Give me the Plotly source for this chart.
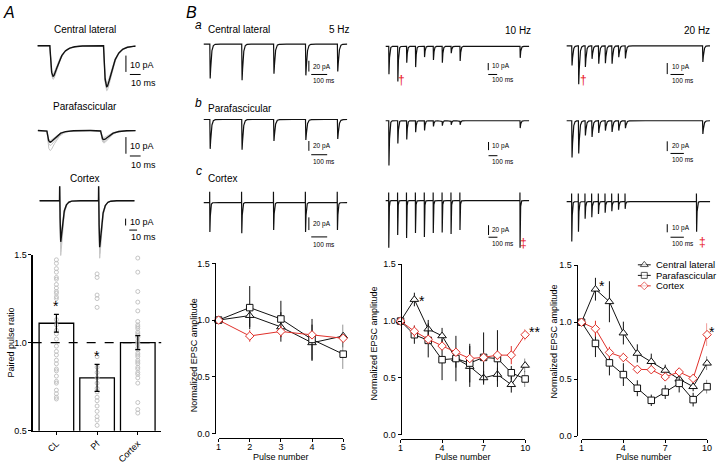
import numpy as np
import plotly.graph_objects as go

W, H = 720, 467
FONT = "Liberation Sans, Arial, Helvetica, sans-serif"
BLACK = "#111111"
GREY = "#c6c6c6"
RED = "#e0302a"
DAGGER = "#e8141c"

# ===================== DATA =====================
# Panel A - paired pulse ratio (bar chart)
ppr_groups = ["CL", "Pf", "Cortex"]
ppr_mean = [1.11, 0.80, 1.00]
ppr_sem = [0.05, 0.077, 0.04]
ppr_cells_cl = [1.47, 1.45, 1.42, 1.40, 1.37, 1.36, 1.33, 1.31, 1.29, 1.28, 1.26, 1.25,
                1.13, 1.10, 1.07, 1.05, 1.02, 0.98, 0.95, 0.93, 0.90, 0.88, 0.85, 0.84,
                0.81, 0.78, 0.77, 0.73, 0.71, 0.69, 0.68]
ppr_cells_pf = [1.39, 1.37, 1.27, 1.25, 1.20, 0.92, 0.86, 0.83, 0.80, 0.77, 0.74, 0.72,
                0.69, 0.67, 0.64, 0.61, 0.58, 0.56, 0.53]
ppr_cells_ctx = [1.48, 1.40, 1.29, 1.23, 1.18, 1.12, 1.10, 1.09, 1.08, 1.06, 1.05, 1.04,
                 1.03, 1.01, 1.00, 0.99, 0.97, 0.96, 0.94, 0.93, 0.92, 0.90, 0.89, 0.88,
                 0.86, 0.85, 0.83, 0.82, 0.80, 0.77, 0.66, 0.62, 0.60]

# Panel A - example paired-pulse EPSCs (pA) at stimulus times (ms)
pp_stim_ms = [0, 50]
pp_cl_avg = [18.6, 25.0]
pp_cl_sweeps = [[20.5, 27.5], [17.0, 23.0], [19.8, 26.0]]
pp_pf_avg = [7.0, 5.5]
pp_pf_sweeps = [[12.0, 7.5], [9.0, 4.2], [6.0, 6.8]]
pp_ctx_avg = [60.0, 68.0]
pp_ctx_sweeps = [[80.0, 84.0], [70.0, 77.0], [52.0, 60.0]]
pp_ctx_artifact = 21.0

# Panel B - example trains (stimulus times in ms, EPSC amplitudes in pA)
train_5hz_ms = [0, 200, 400, 600, 800]
train_10hz_ms = [0, 100, 200, 300, 400, 500, 600, 700, 800, 1475]
train_20hz_ms = [0, 50, 100, 150, 200, 250, 300, 350, 400, 980]
train_20hz_ctx_ms = [0, 50, 100, 150, 200, 250, 300, 350, 400, 935]
cl_5hz_pa = [64, 67, 55, 58, 51]
cl_10hz_pa = [39, 49, 23, 29, 15, 19, 23, 9.5, 20.5, 16]
cl_20hz_pa = [17.7, 34.8, 19.2, 11.8, 16.2, 15.7, 16.2, 10.3, 11.5, 14.7]
pf_5hz_pa = [60, 62, 44, 42, 40]
pf_10hz_pa = [55, 28, 23, 14, 12, 7, 6, 5, 5, 9]
pf_20hz_pa = [75, 67, 30, 33, 25, 20, 23, 20, 15, 27]
ctx_5hz_pa = [46, 48, 43, 46, 43]
ctx_10hz_pa = [96, 70, 76, 66, 74, 66, 65, 68, 60, 96]
ctx_20hz_pa = [49, 37, 21, 19, 15, 13.6, 11.7, 10, 8.8, 37]
ctx_artifact_pa = [17, 16.6, 10]

# Panel B - normalized EPSC amplitude (mean +/- SEM)
pulses_5 = [1, 2, 3, 4, 5]
pulses_10 = [1, 2, 3, 4, 5, 6, 7, 8, 9, 10]
cl_5 = [1.0, 1.04, 0.94, 0.80, 0.86]
cl_5_err = [0, 0.10, 0.13, 0.16, 0.10]
pf_5 = [1.0, 1.11, 1.01, 0.83, 0.70]
pf_5_err = [0, 0.19, 0.16, 0.18, 0.13]
ctx_5 = [1.0, 0.86, 0.90, 0.87, 0.84]
ctx_5_err = [0, 0.05, 0.05, 0.03, 0.03]

cl_10 = [1.0, 1.19, 0.93, 0.87, 0.67, 0.60, 0.50, 0.53, 0.44, 0.61]
cl_10_err = [0, 0.06, 0.08, 0.07, 0.08, 0.18, 0.06, 0.06, 0.07, 0.06]
pf_10 = [1.0, 0.88, 0.83, 0.66, 0.67, 0.63, 0.68, 0.67, 0.545, 0.49]
pf_10_err = [0, 0.08, 0.15, 0.18, 0.20, 0.17, 0.22, 0.25, 0.06, 0.07]
ctx_10 = [1.0, 0.91, 0.84, 0.78, 0.725, 0.67, 0.68, 0.70, 0.70, 0.88]
ctx_10_err = [0, 0.05, 0.04, 0.03, 0.03, 0.03, 0.03, 0.04, 0.08, 0.05]

cl_20 = [1.0, 1.29, 1.18, 0.905, 0.726, 0.654, 0.577, 0.50, 0.434, 0.64]
cl_20_err = [0, 0.10, 0.18, 0.10, 0.08, 0.07, 0.05, 0.05, 0.04, 0.06]
pf_20 = [1.0, 0.814, 0.643, 0.54, 0.42, 0.314, 0.386, 0.463, 0.32, 0.434]
pf_20_err = [0, 0.12, 0.11, 0.10, 0.07, 0.05, 0.06, 0.08, 0.06, 0.06]
ctx_20 = [1.0, 0.943, 0.734, 0.69, 0.586, 0.583, 0.52, 0.563, 0.506, 0.891]
ctx_20_err = [0, 0.07, 0.05, 0.04, 0.03, 0.03, 0.03, 0.03, 0.04, 0.10]

series_names = ["Central lateral", "Parafascicular", "Cortex"]

# ===================== HELPERS =====================
fig = go.Figure()
layout_axes = {}
shapes = []
annotations = []
_n = [0]


def fx(px):
    return px / W


def fy(py):
    return 1 - py / H


def new_axes(dom_x, dom_y, xrange, yrange, xopts=None, yopts=None):
    _n[0] += 1
    sfx = "" if _n[0] == 1 else str(_n[0])
    xr, yr = "x" + sfx, "y" + sfx
    xa = dict(domain=[max(0, fx(dom_x[0])), min(1, fx(dom_x[1]))], range=xrange, anchor=yr,
              visible=False, fixedrange=True, showgrid=False, zeroline=False)
    ya = dict(domain=[max(0, fy(dom_y[1])), min(1, fy(dom_y[0]))], range=yrange, anchor=xr,
              visible=False, fixedrange=True, showgrid=False, zeroline=False)
    if xopts:
        xa.update(xopts)
    if yopts:
        ya.update(yopts)
    layout_axes["xaxis" + sfx] = xa
    layout_axes["yaxis" + sfx] = ya
    return xr, yr


def text(px, py, s, size=9, anchor="left", color="black", italic=False, angle=0, vanchor="middle", pad=1):
    annotations.append(dict(x=fx(px), y=fy(py), xref="paper", yref="paper", text=s, showarrow=False,
                            xanchor=anchor, yanchor=vanchor, textangle=angle, borderpad=pad,
                            font=dict(size=size, color=color, family=FONT,
                                      style="italic" if italic else "normal")))


def trace_panel(dom_x, dom_y, t0_px, px_per_ms, base_px, px_per_pa):
    xrange = [(dom_x[0] - t0_px) / px_per_ms, (dom_x[1] - t0_px) / px_per_ms]
    yrange = [-(dom_y[1] - base_px) / px_per_pa, (base_px - dom_y[0]) / px_per_pa]
    xr, yr = new_axes(dom_x, dom_y, xrange, yrange)
    return dict(xr=xr, yr=yr, t0=t0_px, ppm=px_per_ms, base=base_px, ppa=px_per_pa)


def px_ms(p, px):
    return (px - p["t0"]) / p["ppm"]


def px_pa(p, py):
    return (p["base"] - py) / p["ppa"]


def time_grid(t_start, t_end, stims, fine, coarse):
    parts = [np.arange(t_start, t_end, coarse), np.array([t_end]), np.array(stims, float)]
    for t0 in stims:
        parts.append(t0 + np.arange(-1.0, 30.0, fine))
    t = np.unique(np.round(np.concatenate(parts), 3))
    return t[(t >= t_start) & (t <= t_end)]


def synth(t, stims, amps, kin, artifact):
    y = np.zeros_like(t)
    tr, td, lat = kin["tr"], kin["td"], kin["lat"]
    tpk = np.log(td / tr) * tr * td / (td - tr)
    norm = np.exp(-tpk / td) - np.exp(-tpk / tr)
    for t0, a in zip(stims, amps):
        s = np.clip(t - t0 - lat, 0, None)
        k = (np.exp(-s / td) - np.exp(-s / tr)) / norm
        y -= a * k
        if artifact:
            y += artifact * np.clip(1 - np.abs(t - t0) / 0.2, 0, None)
    return y


def draw_trace(p, ext_px, stims, amps, kin, color=BLACK, width=1.2, artifact=0.0, fine=0.1, coarse=0.5):
    t = time_grid(px_ms(p, ext_px[0]), px_ms(p, ext_px[1]), stims, fine, coarse)
    y = synth(t, stims, amps, kin, artifact)
    fig.add_trace(go.Scatter(x=np.round(t, 3), y=np.round(y, 3), xaxis=p["xr"], yaxis=p["yr"],
                             mode="lines", line=dict(color=color, width=width),
                             hoverinfo="skip", showlegend=False))


def scale_bar(p, v, h, pa, ms, lab_pa, lab_ms, size):
    xv = px_ms(p, v[0])
    yv = px_pa(p, v[1])
    shapes.append(dict(type="line", xref=p["xr"], yref=p["yr"], x0=xv, x1=xv, y0=yv, y1=yv - pa,
                       line=dict(color="black", width=1)))
    xh = px_ms(p, h[0])
    yh = px_pa(p, h[1])
    shapes.append(dict(type="line", xref=p["xr"], yref=p["yr"], x0=xh, x1=xh + ms, y0=yh, y1=yh,
                       line=dict(color="black", width=1)))
    text(lab_pa[0], lab_pa[1], f"{pa:g} pA", size=size)
    text(lab_ms[0], lab_ms[1], f"{ms:g} ms", size=size)


THAL_A = dict(lat=1.0, tr=2.0, td=5.0)
CTX_A = dict(lat=0.4, tr=0.4, td=3.0)
THAL_B = dict(lat=1.0, tr=1.0, td=6.0)
CTX_B = dict(lat=0.4, tr=0.4, td=3.0)

# ===================== PANEL A traces =====================
pA_cl = trace_panel((33, 152), (35, 92), 46.3, 1.086, 41.7, 1.67)
for sw in pp_cl_sweeps:
    draw_trace(pA_cl, (35, 134), pp_stim_ms, sw, THAL_A, color=GREY, width=1, fine=0.05, coarse=0.25)
draw_trace(pA_cl, (35, 134), pp_stim_ms, pp_cl_avg, THAL_A, width=1.4, fine=0.05, coarse=0.25)
scale_bar(pA_cl, (124.3, 51.7), (128.3, 71), 10, 10, (126.5, 61.5), (127, 79.3), 9)

pA_pf = trace_panel((33, 152), (116, 160), 43.3, 1.086, 128.3, 1.7)
for sw in pp_pf_sweeps:
    draw_trace(pA_pf, (35, 134), pp_stim_ms, sw, THAL_A, color=GREY, width=1, fine=0.05, coarse=0.25)
draw_trace(pA_pf, (35, 134), pp_stim_ms, pp_pf_avg, THAL_A, width=1.4, fine=0.05, coarse=0.25)
scale_bar(pA_pf, (124.3, 135), (128.3, 154.3), 10, 10, (126.5, 144), (127, 163.3), 9)

pA_ctx = trace_panel((33, 152), (178, 268), 57.3, 0.788, 200, 0.7)
for sw in pp_ctx_sweeps:
    draw_trace(pA_ctx, (37, 133), pp_stim_ms, sw, CTX_A, color=GREY, width=1,
               artifact=pp_ctx_artifact, fine=0.05, coarse=0.25)
draw_trace(pA_ctx, (37, 133), pp_stim_ms, pp_ctx_avg, CTX_A, width=1.4,
           artifact=pp_ctx_artifact, fine=0.05, coarse=0.25)
scale_bar(pA_ctx, (124, 218.3), (127.7, 230), 10, 10, (126, 221.7), (127, 236.7), 9)

text(83, 25, "Central lateral", size=10, anchor="center")
text(83, 104, "Parafascicular", size=10, anchor="center")
text(82.5, 177.5, "Cortex", size=10, anchor="center")
text(6.5, 8, "A", size=16, anchor="center", italic=True)
text(191, 8, "B", size=16, anchor="center", italic=True)

# ===================== PANEL B traces =====================
cols = [
    dict(dom_x=(200, 357), ext=(203, 348), t0=209, ppm=0.16125, stims=train_5hz_ms),
    dict(dom_x=(384, 541), ext=(387, 532), t0=390, ppm=0.09, stims=train_10hz_ms),
    dict(dom_x=(566, 720), ext=(570, 715), t0=575, ppm=0.135, stims=train_20hz_ms),
]
rows = [
    dict(dom_y=(30, 93), base=[40, 42.3, 41.7], ppa=[0.55, 0.73, 1.13],
         amps=[cl_5hz_pa, cl_10hz_pa, cl_20hz_pa], kin=THAL_B),
    dict(dom_y=(108, 172), base=[117, 118.3, 118.3], ppa=[0.5, 0.83, 0.5],
         amps=[pf_5hz_pa, pf_10hz_pa, pf_20hz_pa], kin=THAL_B),
    dict(dom_y=(183, 253), base=[202, 200, 201], ppa=[0.65, 0.5, 0.83],
         amps=[ctx_5hz_pa, ctx_10hz_pa, ctx_20hz_pa], kin=CTX_B),
]
bars = [
    [((309.3, 57), (311.7, 71), 20, (311.5, 63), (311.5, 77.5)),
     ((490.7, 59.3), (490.7, 71), 10, (492.5, 62.7), (492, 76.5)),
     ((671.7, 59.3), (675, 71), 10, (674.5, 63), (674.5, 77.3))],
    [((309.3, 139), (311.7, 153), 20, (311.5, 144), (311.5, 159.5)),
     ((491, 140), (491, 154), 10, (492.8, 144), (492, 159.5)),
     ((671.7, 139.3), (675, 151.7), 20, (674.5, 144), (674.5, 158.3))],
    [((309.3, 217), (311.7, 237), 20, (311.5, 224), (311.5, 244.3)),
     ((491, 225), (491, 237.3), 20, (492.8, 230), (492, 244)),
     ((671.7, 224), (675, 237.3), 10, (674.5, 228), (674.5, 243.3))],
]
for ri, row in enumerate(rows):
    for ci, col in enumerate(cols):
        p = trace_panel(col["dom_x"], row["dom_y"], col["t0"], col["ppm"], row["base"][ci], row["ppa"][ci])
        stims = col["stims"]
        if ri == 2 and ci == 2:
            stims = train_20hz_ctx_ms
        art = ctx_artifact_pa[ci] if ri == 2 else 0.0
        draw_trace(p, col["ext"], stims, row["amps"][ci], row["kin"], width=1.2, artifact=art)
        v, hh, pa, lp, lm = bars[ri][ci]
        scale_bar(p, v, hh, pa, 100, lp, lm, 6.5)

text(198, 20, "a", size=12, anchor="center", italic=True)
text(198, 100, "b", size=12, anchor="center", italic=True)
text(198, 170, "c", size=12, anchor="center", italic=True)
text(205, 25, "Central lateral", size=10)
text(205, 106, "Parafascicular", size=10)
text(205, 177.5, "Cortex", size=10)
text(353, 25, "5 Hz", size=10, anchor="right")
text(536, 26, "10 Hz", size=10, anchor="right")
text(717, 26, "20 Hz", size=10, anchor="right")
text(403, 76.5, "†", size=12, anchor="center", color=DAGGER)
text(586.7, 76.5, "†", size=12, anchor="center", color=DAGGER)
text(526.7, 242.7, "‡", size=12, anchor="center", color=DAGGER)
text(707.3, 241.7, "‡", size=12, anchor="center", color=DAGGER)

# ===================== PANEL A bar chart =====================
axis_style = dict(visible=True, showline=True, linecolor="black", linewidth=1.2, ticks="outside",
                  ticklen=3, tickwidth=1, tickcolor="black",
                  tickfont=dict(size=9, family=FONT, color="black"))
bx, by = new_axes((30, 160), (255, 435), [-0.583, 2.576], [0.5, 1.5],
                  xopts=dict(axis_style, tickvals=[0, 1, 2], ticktext=ppr_groups, tickangle=-45),
                  yopts=dict(axis_style, tickvals=[0.5, 1.0, 1.5], ticktext=["0.5", "1.0", "1.5"]))
fig.add_trace(go.Bar(x=[0, 1, 2], y=ppr_mean, width=0.85, xaxis=bx, yaxis=by,
                     marker=dict(color="white", line=dict(color="black", width=1.3)),
                     hoverinfo="skip", showlegend=False))
for gi, cells in enumerate([ppr_cells_cl, ppr_cells_pf, ppr_cells_ctx]):
    fig.add_trace(go.Scatter(x=[gi] * len(cells), y=cells, xaxis=bx, yaxis=by, mode="markers",
                             marker=dict(symbol="circle-open", size=4, color="#bdbdbd", line=dict(width=0.9)),
                             cliponaxis=False, hoverinfo="skip", showlegend=False))
fig.add_trace(go.Scatter(x=[0, 1, 2], y=ppr_mean, xaxis=bx, yaxis=by, mode="markers",
                         marker=dict(size=1, color="rgba(0,0,0,0)"),
                         error_y=dict(type="data", array=ppr_sem, color="black", thickness=1.2, width=2.5),
                         hoverinfo="skip", showlegend=False))
shapes.append(dict(type="line", xref=bx + " domain", yref=by, x0=0, x1=1, y0=1.0, y1=1.0,
                   line=dict(color="black", width=1.3, dash="dash")))
for gi in (0, 1):
    annotations.append(dict(x=gi, y=ppr_mean[gi] + ppr_sem[gi] + 0.065, xref=bx, yref=by, text="*",
                            showarrow=False, yshift=-3, font=dict(size=14, family=FONT, color="black")))
text(8, 345, "Paired pulse ratio", size=9, anchor="center", angle=-90)

# ===================== PANEL B line charts =====================
charts = [
    dict(xd=(218, 344), yd=(264, 438), xpos=442, ypos=214, xr=[1, 5], xt=pulses_5,
         x=pulses_5, data=[(cl_5, cl_5_err), (pf_5, pf_5_err), (ctx_5, ctx_5_err)],
         ytitle=(193, 358)),
    dict(xd=(402, 528), yd=(265, 439), xpos=443.5, ypos=402, xr=[1, 10], xt=[1, 4, 7, 10],
         x=pulses_10, data=[(cl_10, cl_10_err), (pf_10, pf_10_err), (ctx_10, ctx_10_err)],
         ytitle=(375, 346)),
    dict(xd=(585, 712), yd=(266, 440.5), xpos=443.5, ypos=580, xr=[1, 10], xt=[1, 4, 7, 10],
         x=pulses_10, data=[(cl_20, cl_20_err), (pf_20, pf_20_err), (ctx_20, ctx_20_err)],
         ytitle=(557, 344)),
]
styles = [("triangle-up", BLACK, 7.5), ("square", BLACK, 6.5), ("diamond", RED, 6.5)]
for ch in charts:
    xr_, yr_ = new_axes(ch["xd"], ch["yd"], ch["xr"], [0, 1.5],
                        xopts=dict(axis_style, anchor="free", position=fy(ch["xpos"]),
                                   tickvals=ch["xt"], ticktext=[str(v) for v in ch["xt"]],
                                   ticklabelstandoff=-3),
                        yopts=dict(axis_style, anchor="free", position=fx(ch["ypos"]),
                                   tickvals=[0, 0.5, 1.0, 1.5], ticktext=["0.0", "0.5", "1.0", "1.5"]))
    for (vals, errs), (sym, colr, sz) in zip(ch["data"], styles):
        fig.add_trace(go.Scatter(x=ch["x"], y=vals, xaxis=xr_, yaxis=yr_, mode="lines+markers",
                                 line=dict(color=colr, width=1),
                                 marker=dict(symbol=sym, size=sz, color="white", line=dict(color=colr, width=1)),
                                 error_y=dict(type="data", array=errs, color=colr, thickness=1, width=0),
                                 cliponaxis=False, hoverinfo="skip", showlegend=False))
    text((ch["xd"][0] + ch["xd"][1]) / 2, 462, "Pulse number", size=9, anchor="center", pad=0)
    text(ch["ytitle"][0], ch["ytitle"][1], "Normalized EPSC amplitude", size=9, anchor="center", angle=-90)

# significance marks
text(423.5, 302, "*", size=14, anchor="center")
text(537, 334, "**", size=14, anchor="center")
text(606, 287, "*", size=14, anchor="center")
text(716.5, 334, "*", size=14, anchor="center")

# legend (glyph overlay)
lx, ly = new_axes((636, 720), (258, 294), [636, 720], [294, 258])
legend_rows = [265.5, 276.3, 287]
for name, (sym, colr, sz), yrow in zip(series_names, styles, legend_rows):
    fig.add_trace(go.Scatter(x=[642, 648.5, 655], y=[yrow] * 3, xaxis=lx, yaxis=ly, mode="lines+markers",
                             line=dict(color=colr, width=1),
                             marker=dict(symbol=sym, size=[0, sz - 0.5, 0], color="white",
                                         line=dict(color=colr, width=1)),
                             cliponaxis=False, hoverinfo="skip", showlegend=False))
    text(658, yrow, name, size=9.5)

fig.update_layout(**layout_axes)
fig.update_layout(width=W, height=H, margin=dict(l=0, r=0, t=0, b=0), autosize=False,
                  paper_bgcolor="white", plot_bgcolor="rgba(0,0,0,0)", showlegend=False,
                  font=dict(family=FONT, color="black"), shapes=shapes, annotations=annotations,
                  bargap=0)
fig.write_html("out.html", config=dict(displayModeBar=False, staticPlot=True),
               post_script="document.body.style.margin='0px';document.body.style.overflow='hidden';")
